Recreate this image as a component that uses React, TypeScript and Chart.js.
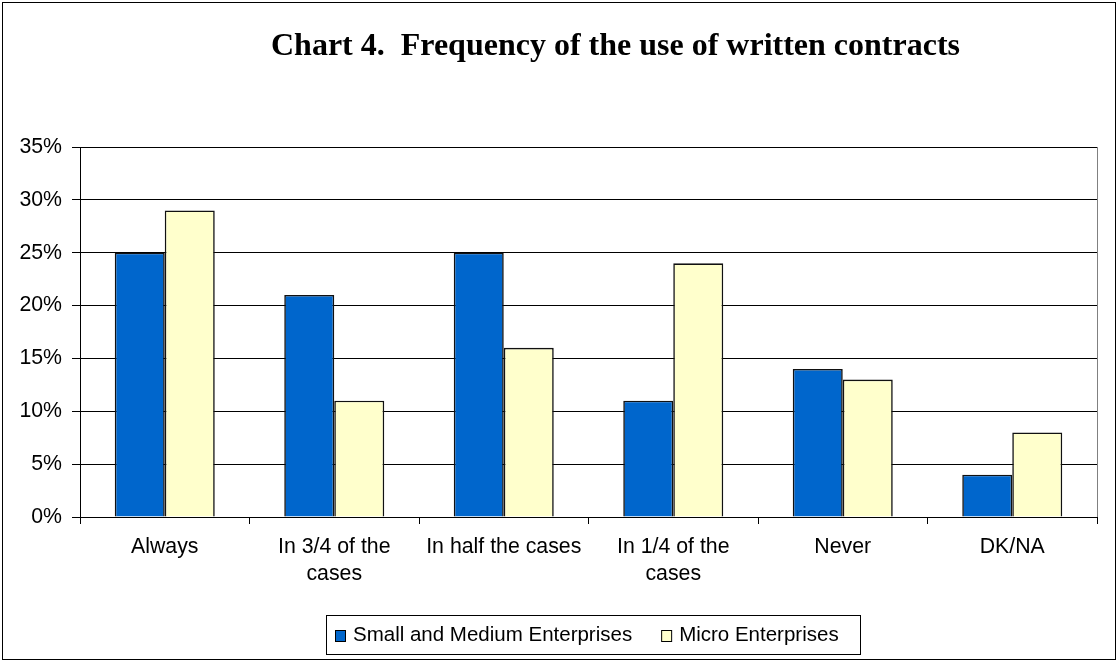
import React, { useEffect, useRef } from "react";
import { Chart, registerables } from "chart.js";

Chart.register(...registerables);

// Chart content
const chartTitle = "Chart 4.  Frequency of the use of written contracts";
const categories: (string | string[])[] = [
  "Always",
  ["In 3/4 of the", "cases"],
  "In half the cases",
  ["In 1/4 of the", "cases"],
  "Never",
  "DK/NA",
];
const smeLabel = "Small and Medium Enterprises";
const microLabel = "Micro Enterprises";
const smeValues = [25, 21, 25, 11, 14, 4];
const microValues = [29, 11, 16, 24, 13, 8];
const yTicks = [0, 5, 10, 15, 20, 25, 30, 35];

const SANS = '"Liberation Sans", Arial, sans-serif';
const SERIF = '"Liberation Serif", "Times New Roman", serif';
const BLUE = "#0066CC";
const YELLOW = "#FFFFCC";

// Frame, title, plot-area border and boxed legend
const decorations = {
  id: "decorations",
  beforeDatasetsDraw(chart: any) {
    const { ctx, chartArea } = chart;
    ctx.save();
    ctx.strokeStyle = "#808080";
    ctx.lineWidth = 1;
    ctx.beginPath();
    ctx.moveTo(Math.round(chartArea.right) + 0.5, chartArea.top);
    ctx.lineTo(Math.round(chartArea.right) + 0.5, chartArea.bottom);
    ctx.stroke();
    ctx.restore();
  },
  afterDraw(chart: any) {
    const { ctx } = chart;
    ctx.save();
    // outer frame
    ctx.strokeStyle = "#000";
    ctx.lineWidth = 1;
    ctx.strokeRect(2.5, 2.5, 1113, 657);

    // title
    ctx.fillStyle = "#000";
    ctx.font = `bold 32px ${SERIF}`;
    ctx.textAlign = "center";
    ctx.textBaseline = "alphabetic";
    ctx.fillText(chartTitle, 615.5, 55);

    // legend box
    ctx.strokeRect(326.5, 615.5, 534, 39);
    ctx.font = `20.5px ${SANS}`;
    ctx.textAlign = "left";
    let x = 335;
    chart.data.datasets.forEach((ds: any) => {
      ctx.fillStyle = ds.backgroundColor;
      ctx.fillRect(x, 630, 10, 11);
      ctx.strokeStyle = "#000";
      ctx.strokeRect(x + 0.5, 630.5, 10, 11);
      ctx.fillStyle = "#000";
      ctx.fillText(ds.label, x + 18, 641);
      x += 18 + ctx.measureText(ds.label).width + 29;
    });
    ctx.restore();
  },
};

export default function App() {
  const canvasRef = useRef<HTMLCanvasElement | null>(null);

  useEffect(() => {
    const canvas = canvasRef.current;
    if (!canvas) return;
    const chart = new Chart(canvas, {
      type: "bar",
      data: {
        labels: categories,
        datasets: [
          {
            label: smeLabel,
            data: smeValues,
            backgroundColor: BLUE,
            borderColor: "#111",
            borderWidth: 1.6,
            categoryPercentage: 0.59,
            barPercentage: 1,
          },
          {
            label: microLabel,
            data: microValues,
            backgroundColor: YELLOW,
            borderColor: "#111",
            borderWidth: 1.6,
            categoryPercentage: 0.59,
            barPercentage: 1,
          },
        ],
      },
      options: {
        animation: false,
        responsive: false,
        devicePixelRatio: 1,
        layout: { padding: { left: 0, top: 147, right: 21, bottom: 45 } },
        plugins: {
          legend: { display: false },
          title: { display: false },
          tooltip: { enabled: false },
        },
        scales: {
          x: {
            afterFit: (scale: any) => {
              scale.height = 100;
            },
            grid: {
              offset: true,
              drawOnChartArea: false,
              color: "#000",
              tickColor: "#000",
              tickLength: 7,
            },
            border: { display: true, color: "#000", width: 1 },
            ticks: {
              color: "#000",
              padding: 10,
              maxRotation: 0,
              autoSkip: false,
              font: { family: SANS, size: 21.3, lineHeight: 1.27 },
            },
          },
          y: {
            min: 0,
            max: 35,
            afterFit: (scale: any) => {
              scale.width = 80;
            },
            afterBuildTicks: (scale: any) => {
              scale.ticks = yTicks.map((v) => ({ value: v }));
            },
            grid: {
              color: "#000",
              tickColor: "#000",
              tickLength: 8,
            },
            border: { display: true, color: "#000", width: 1 },
            ticks: {
              color: "#000",
              padding: 10,
              font: { family: SANS, size: 21.3 },
              callback: (v: any) => `${v}%`,
            },
          },
        },
      },
      plugins: [decorations],
    });
    return () => chart.destroy();
  }, []);

  return (
    <div
      style={{
        position: "fixed",
        left: 0,
        top: 0,
        width: 1118,
        height: 662,
        background: "#fff",
      }}
    >
      <canvas
        ref={canvasRef}
        width={1118}
        height={662}
        style={{ width: 1118, height: 662, display: "block" }}
      />
    </div>
  );
}
